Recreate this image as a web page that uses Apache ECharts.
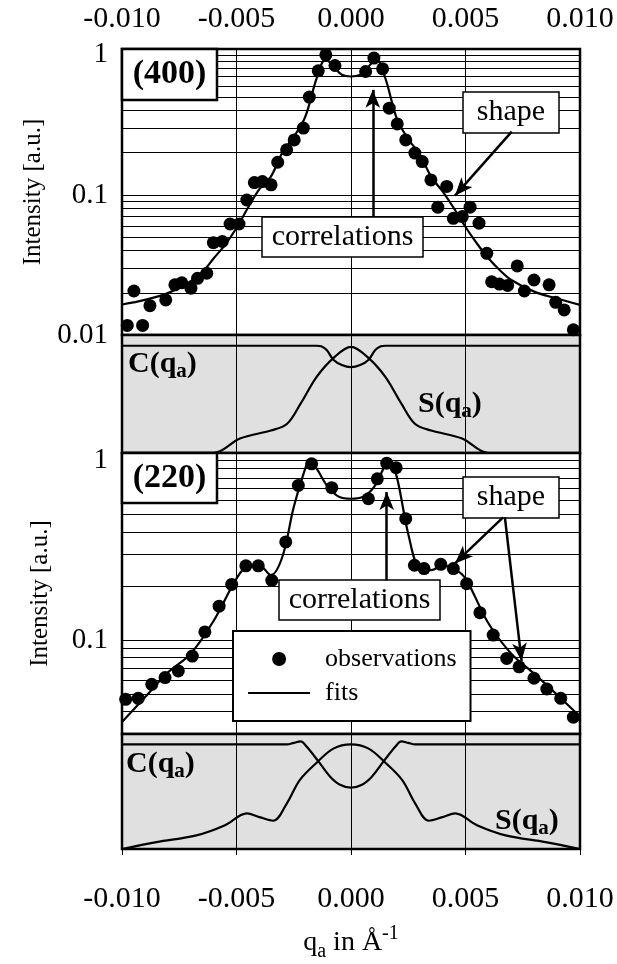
<!DOCTYPE html>
<html>
<head>
<meta charset="utf-8">
<script src="https://cdn.jsdelivr.net/npm/echarts@6/dist/echarts.min.js"></script>
<style>
  html, body { margin: 0; padding: 0; background: #fff; }
  #chart { width: 617px; height: 964px; }
</style>
</head>
<body>
<div id="chart"></div>
<script>
const FONT = "'Liberation Serif', 'Times New Roman', Times, serif";

// ---- (400) reflection ----
const q400Obs = [-0.00977, -0.0091, -0.00948, -0.00878, -0.00809, -0.00769, -0.00739, -0.00699, -0.0067, -0.0063,
  -0.00601, -0.00562, -0.00528, -0.00489, -0.00455, -0.00422, -0.00387, -0.00349, -0.0032, -0.00281,
  -0.00248, -0.00208, -0.00182, -0.00143, -0.0011, -0.0007, 0.00064, 0.001, 0.00138, 0.00167,
  0.00202, 0.00239, 0.00279, 0.00311, 0.00349, 0.00418, 0.00379, 0.00447, 0.00486, 0.0052,
  0.00559, 0.00593, 0.00726, 0.00614, 0.00648, 0.00684, 0.00757, 0.00799, 0.00865, 0.00894,
  0.00931, 0.00971];
const i400Obs = [0.0117, 0.0117, 0.0206, 0.0162, 0.0178, 0.0228, 0.0236, 0.0216, 0.0254, 0.0276,
  0.0456, 0.0465, 0.062, 0.062, 0.092, 0.1225, 0.1245, 0.118, 0.171, 0.21,
  0.247, 0.30, 0.499, 0.769, 1.0, 0.839, 0.76, 0.947, 0.794, 0.416,
  0.321, 0.247, 0.199, 0.173, 0.128, 0.115, 0.0817, 0.068, 0.07, 0.0817,
  0.0628, 0.0383, 0.0311, 0.024, 0.0231, 0.0226, 0.0206, 0.0247, 0.0228, 0.0171,
  0.0151, 0.0109];
const q400Fit = [-0.010, -0.009, -0.008, -0.007, -0.0065, -0.006, -0.0055, -0.005, -0.0045, -0.004,
  -0.0035, -0.003, -0.0025, -0.002, -0.0015, -0.0011, -0.0007, -0.0004, 0,
  0.0004, 0.0007, 0.0011, 0.0015, 0.002, 0.0025, 0.003, 0.0035, 0.004, 0.0045,
  0.005, 0.0055, 0.006, 0.0065, 0.007, 0.008, 0.009, 0.010];
const i400Fit = [0.0165, 0.0178, 0.0199, 0.0242, 0.028, 0.0352, 0.044, 0.058, 0.081, 0.11,
  0.135, 0.20, 0.26, 0.36, 0.68, 0.93, 0.80, 0.72, 0.70,
  0.72, 0.80, 0.93, 0.68, 0.35, 0.25, 0.195, 0.135, 0.106, 0.08,
  0.059, 0.045, 0.0353, 0.029, 0.0247, 0.0204, 0.0182, 0.0164];
// correlation C(qa) and shape S(qa) functions, (400)
const q400C = [-0.010, -0.005, -0.002, -0.0015, -0.0013, -0.00106, -0.00077, -0.0004, 0,
  0.0004, 0.00077, 0.00106, 0.0013, 0.0015, 0.002, 0.005, 0.010];
const v400C = [1, 1, 1, 1, 0.995, 0.96, 0.87, 0.82, 0.80,
  0.82, 0.87, 0.96, 0.995, 1, 1, 1, 1];
const q400S = [-0.010, -0.008, -0.006, -0.00485, -0.0035, -0.0028, -0.0022, -0.0015, -0.00077, 0,
  0.00077, 0.0015, 0.0022, 0.0028, 0.0035, 0.00485, 0.006, 0.008, 0.010];
const v400S = [0, 0, 0, 0.135, 0.21, 0.27, 0.46, 0.71, 0.885, 0.99,
  0.885, 0.71, 0.46, 0.27, 0.21, 0.135, 0, 0, 0];

// ---- (220) reflection ----
const q220Obs = [-0.00984, -0.00929, -0.0087, -0.00812, -0.00754, -0.00693, -0.00638, -0.00576, -0.00521, -0.00459,
  -0.00405, -0.00346, -0.00285, -0.0023, -0.00172, -0.00084, 0.00076, 0.00115, 0.00156, 0.00197,
  0.00239, 0.00277, 0.00319, 0.00392, 0.00447, 0.00505, 0.00563, 0.00621, 0.0068, 0.00734,
  0.00799, 0.00855, 0.00916, 0.00971];
const i220Obs = [0.0468, 0.0474, 0.0567, 0.0618, 0.0673, 0.0815, 0.111, 0.1545, 0.204, 0.259,
  0.259, 0.215, 0.352, 0.726, 0.958, 0.705, 0.612, 0.79, 0.966, 0.911,
  0.474, 0.261, 0.25, 0.264, 0.25, 0.206, 0.142, 0.1066, 0.079, 0.071,
  0.0613, 0.0534, 0.0474, 0.0372];
const q220Fit = [-0.010, -0.009, -0.008, -0.007, -0.006, -0.005, -0.0045, -0.004, -0.0035, -0.003,
  -0.0025, -0.002, -0.0018, -0.0015, -0.001, -0.0005, 0, 0.0005, 0.001, 0.0015,
  0.0017, 0.002, 0.0025, 0.003, 0.0035, 0.004, 0.0045, 0.005, 0.006, 0.007,
  0.008, 0.009, 0.010];
const i220Fit = [0.035, 0.048, 0.066, 0.084, 0.128, 0.22, 0.258, 0.26, 0.23, 0.29,
  0.55, 0.90, 1.0, 0.90, 0.71, 0.625, 0.612, 0.625, 0.71, 0.938,
  0.98, 0.81, 0.39, 0.25, 0.245, 0.26, 0.25, 0.22, 0.124, 0.084,
  0.065, 0.0496, 0.0375];
const q220C = [-0.010, -0.005, -0.0028, -0.0025, -0.0022, -0.00194, -0.00143, -0.00092, -0.00048, 0,
  0.00048, 0.00092, 0.00143, 0.00194, 0.0022, 0.0025, 0.0028, 0.005, 0.010];
const v220C = [1, 1, 1, 1.015, 1.03, 0.98, 0.84, 0.694, 0.614, 0.587,
  0.614, 0.694, 0.84, 0.98, 1.03, 1.015, 1, 1, 1];
const q220S = [-0.010, -0.0085, -0.00675, -0.0055, -0.00455, -0.004, -0.0034, -0.0028, -0.00223, -0.00143, -0.00077, 0,
  0.00077, 0.00143, 0.00223, 0.0028, 0.0034, 0.004, 0.00455, 0.0055, 0.00675, 0.0085, 0.010];
const v220S = [0, 0.066, 0.13, 0.227, 0.34, 0.305, 0.27, 0.437, 0.662, 0.84, 0.96, 1.0,
  0.96, 0.84, 0.662, 0.437, 0.27, 0.305, 0.34, 0.227, 0.13, 0.066, 0];

// axis ticks and grid lines
const xTicks = [-0.010, -0.005, 0.000, 0.005, 0.010];
const yLabels400 = [0.01, 0.1, 1];
const yLabels220 = [0.1, 1];
const hGrid400 = [0.02, 0.03, 0.04, 0.05, 0.06, 0.07, 0.08, 0.09, 0.1,
  0.2, 0.3, 0.4, 0.5, 0.6, 0.7, 0.8, 0.9, 1];
const hGrid220 = [0.04, 0.05, 0.06, 0.07, 0.08, 0.09, 0.1,
  0.2, 0.3, 0.4, 0.5, 0.6, 0.7, 0.8, 0.9, 1];

// annotation arrows: [tail q, tail I, head q, head I]
const arrows400 = [
  [0.00095, 0.070, 0.00095, 0.562],
  [0.00702, 0.283, 0.00454, 0.0987]
];
const arrows220 = [
  [0.00156, 0.215, 0.00156, 0.667],
  [0.00664, 0.482, 0.00454, 0.267],
  [0.00672, 0.482, 0.00745, 0.0764]
];

const pairs = (xs, ys) => xs.map((x, i) => [x, ys[i]]);
const BLACK = '#000';

const arrowLines = list => list.map(a => [
  { coord: [a[0], a[1]], symbol: 'none' },
  { coord: [a[2], a[3]], symbol: 'arrow', symbolSize: [11, 18] }
]);
const gridLines = list => list.map(v => ({ yAxis: v }));

function xAxisFor(gridIndex, extra) {
  return Object.assign({
    gridIndex, type: 'value', min: -0.010, max: 0.010, interval: 0.005,
    axisLine: { show: false },
    axisTick: { show: false },
    axisLabel: { show: false },
    splitLine: { show: true, lineStyle: { color: BLACK, width: 1 } }
  }, extra || {});
}

const yName = {
  name: 'Intensity [a.u.]', nameLocation: 'middle', nameRotate: 90, nameGap: 69,
  nameTextStyle: { fontFamily: FONT, fontSize: 25, color: BLACK }
};
function logAxis(gridIndex, min, labels) {
  return Object.assign({
    gridIndex, type: 'log', logBase: 10, min, max: 1.1,
    axisLine: { show: false },
    axisTick: { show: true, length: 6, customValues: labels, lineStyle: { color: BLACK, width: 1 } },
    axisLabel: {
      customValues: labels, margin: 14, fontFamily: FONT, fontSize: 29, color: BLACK,
      formatter: v => String(+v.toPrecision(3))
    },
    splitLine: { show: false }
  }, yName);
}
function linAxis(gridIndex) {
  return {
    gridIndex, type: 'value', min: 0, max: 1.1, show: false, splitLine: { show: false }
  };
}

const lineSeries = (name, x, y, data, extra) => Object.assign({
  type: 'line', name, xAxisIndex: x, yAxisIndex: y, data,
  smooth: 0.35, symbol: 'none', z: 3,
  lineStyle: { color: BLACK, width: 2.2 }, itemStyle: { color: BLACK, opacity: 0 }
}, extra || {});
const dotSeries = (x, y, data, extra) => Object.assign({
  type: 'scatter', name: 'observations', xAxisIndex: x, yAxisIndex: y, data,
  symbol: 'circle', symbolSize: 13, z: 4, itemStyle: { color: BLACK, opacity: 1 }
}, extra || {});

const gridMarkLine = list => ({
  silent: true, z: 1, symbol: ['none', 'none'], label: { show: false },
  lineStyle: { color: BLACK, width: 1, type: 'solid', opacity: 1 },
  data: gridLines(list)
});
const arrowMarkLine = list => ({
  silent: true, z: 6, label: { show: false },
  lineStyle: { color: BLACK, width: 2.5, type: 'solid' },
  itemStyle: { color: BLACK, opacity: 1 },
  data: arrowLines(list)
});

// framed text box
function box(x, y, w, h, text, font, lw) {
  return {
    type: 'group', z: 5,
    children: [
      { type: 'rect', z: 5, shape: { x, y, width: w, height: h },
        style: { fill: '#fff', stroke: BLACK, lineWidth: lw } },
      { type: 'text', z: 6, x: x + w / 2, y: y + h / 2,
        style: { text, font, fill: BLACK, align: 'center', verticalAlign: 'middle' } }
    ]
  };
}
// bold "X(q_a)" label
function funcLabel(x, y, letter) {
  return {
    type: 'text', z: 6, x, y,
    style: {
      text: '{m|' + letter + '(q}{s|a}{m|)}',
      align: 'left', verticalAlign: 'middle', fill: BLACK,
      rich: {
        m: { fontFamily: FONT, fontWeight: 'bold', fontSize: 30, lineHeight: 36, fill: BLACK },
        s: { fontFamily: FONT, fontWeight: 'bold', fontSize: 21, lineHeight: 21, verticalAlign: 'bottom', fill: BLACK }
      }
    }
  };
}

const option = {
  animation: false,
  backgroundColor: '#fff',
  grid: [
    { left: 122, top: 49, width: 458, height: 286, show: true, borderColor: BLACK, borderWidth: 2.5, backgroundColor: '#fff' },
    { left: 122, top: 335, width: 458, height: 118, show: true, borderColor: BLACK, borderWidth: 2.5, backgroundColor: '#e0e0e0' },
    { left: 122, top: 453, width: 458, height: 281, show: true, borderColor: BLACK, borderWidth: 2.5, backgroundColor: '#fff' },
    { left: 122, top: 734, width: 458, height: 115, show: true, borderColor: BLACK, borderWidth: 2.5, backgroundColor: '#e0e0e0' }
  ],
  xAxis: [
    xAxisFor(0, {
      position: 'top',
      axisLabel: { show: true, margin: 15, fontFamily: FONT, fontSize: 30, color: BLACK,
        formatter: v => v.toFixed(3) }
    }),
    xAxisFor(1),
    xAxisFor(2),
    xAxisFor(3, {
      position: 'bottom',
      axisTick: { show: true, length: 6, lineStyle: { color: BLACK, width: 1 } },
      axisLabel: { show: true, margin: 35, fontFamily: FONT, fontSize: 30, color: BLACK,
        formatter: v => v.toFixed(3) },
      name: '{m|q}{s|a}{m| in Å}{p|-1}',
      nameLocation: 'middle', nameGap: 75,
      nameTextStyle: {
        fontFamily: FONT, fontSize: 28, color: BLACK,
        rich: {
          m: { fontFamily: FONT, fontSize: 28, lineHeight: 38, color: BLACK },
          s: { fontFamily: FONT, fontSize: 20, lineHeight: 20, verticalAlign: 'bottom', color: BLACK },
          p: { fontFamily: FONT, fontSize: 20, lineHeight: 20, verticalAlign: 'top', color: BLACK }
        }
      }
    })
  ],
  yAxis: [
    logAxis(0, 0.01, yLabels400),
    linAxis(1),
    logAxis(2, 0.03, yLabels220),
    linAxis(3)
  ],
  legend: {
    data: [
      { name: 'observations', icon: 'circle' },
      { name: 'fits', itemStyle: { opacity: 0 }, lineStyle: { color: BLACK, width: 2.2 } }
    ],
    orient: 'vertical', left: 233, top: 631,
    padding: [14, 14, 14, 14], itemGap: 6, itemWidth: 62, itemHeight: 14,
    backgroundColor: '#fff', borderColor: BLACK, borderWidth: 2,
    selectedMode: false, z: 5,
    textStyle: { fontFamily: FONT, fontSize: 26, color: BLACK, lineHeight: 28, padding: [0, 0, 0, 10] }
  },
  graphic: [
    box(122, 49, 95, 51, '(400)', 'bold 34px ' + FONT, 2.5),
    box(122, 453, 95, 50, '(220)', 'bold 34px ' + FONT, 2.5),
    box(463, 92, 96, 41, 'shape', '30px ' + FONT, 1.5),
    box(262, 217, 161, 40, 'correlations', '30px ' + FONT, 1.5),
    box(463, 477, 96, 41, 'shape', '30px ' + FONT, 1.5),
    box(279, 580, 161, 40, 'correlations', '30px ' + FONT, 1.5),
    funcLabel(128, 364, 'C'),
    funcLabel(418, 404, 'S'),
    funcLabel(126, 764, 'C'),
    funcLabel(495, 821, 'S')
  ],
  series: [
    dotSeries(0, 0, pairs(q400Obs, i400Obs), { markLine: arrowMarkLine(arrows400) }),
    lineSeries('fits', 0, 0, pairs(q400Fit, i400Fit), { markLine: gridMarkLine(hGrid400) }),
    lineSeries('C400', 1, 1, pairs(q400C, v400C)),
    lineSeries('S400', 1, 1, pairs(q400S, v400S)),
    dotSeries(2, 2, pairs(q220Obs, i220Obs), { markLine: arrowMarkLine(arrows220) }),
    lineSeries('fits', 2, 2, pairs(q220Fit, i220Fit), { markLine: gridMarkLine(hGrid220) }),
    lineSeries('C220', 3, 3, pairs(q220C, v220C)),
    lineSeries('S220', 3, 3, pairs(q220S, v220S))
  ]
};

const chart = echarts.init(document.getElementById('chart'), null, { renderer: 'canvas' });
chart.setOption(option);
</script>
</body>
</html>
